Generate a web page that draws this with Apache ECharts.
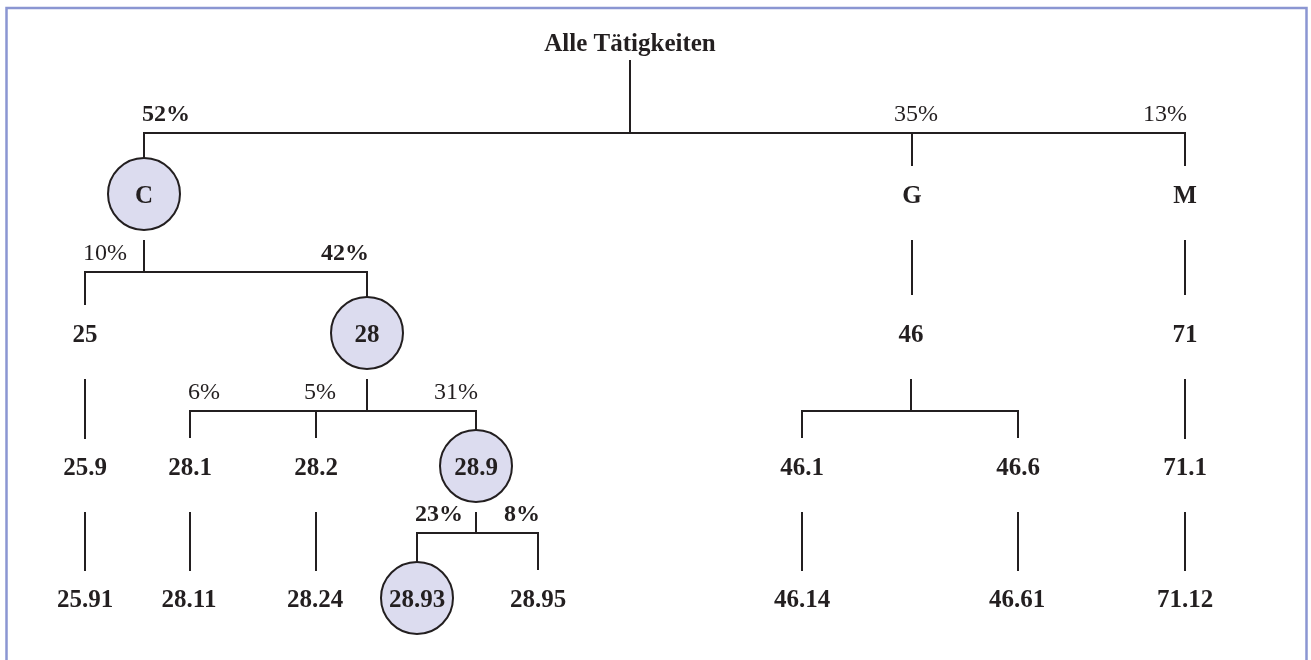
<!DOCTYPE html>
<html>
<head>
<meta charset="utf-8">
<script src="https://cdn.jsdelivr.net/npm/echarts@6/dist/echarts.min.js"></script>
<style>
html,body{margin:0;padding:0;background:#fff;}
#chart{width:1311px;height:660px;}
</style>
</head>
<body>
<div id="chart"></div>
<script>
// ---- data ----
const nodeNames  = ['Alle Tätigkeiten','C','G','M','25','28','46','71','25.9','28.1','28.2','28.9','46.1','46.6','71.1','25.91','28.11','28.24','28.93','28.95','46.14','46.61','71.12'];
const nodeParent = [-1,0,0,0,1,1,2,3,4,5,5,5,6,6,7,8,9,10,11,11,12,13,14];
const nodeLevel  = [0,1,1,1,2,2,2,2,3,3,3,3,3,3,3,4,4,4,4,4,4,4,4];
const nodeSlot   = [630,144,912,1185,85,367,911,1185,85,190,316,476,802,1018,1185,85,189,315,417,538,802,1017,1185];
const nodeCircled = [0,1,0,0,0,1,0,0,0,0,0,1,0,0,0,0,0,0,1,0,0,0,0];
const shareLabels = ['','52%','35%','13%','10%','42%','','','','6%','5%','31%','','','','','','','23%','8%','','',''];
const shareBold   = [0,1,0,0,0,1,0,0,0,0,0,0,0,0,0,0,0,0,1,1,0,0,0];

// ---- layout constants ----
const rowY = [42, 194, 333, 466, 598];
const barOffset = [61, 61, 55, 65];
const LINE = '#231f20';
const FILL = '#dcdcef';
const R = 36;

const children = nodeNames.map((_, i) => nodeParent.map((p, j) => p === i ? j : -1).filter(j => j >= 0));
const parentIdx = children.map((c, i) => c.length ? i : -1).filter(i => i >= 0);

function lineEl(a, b) {
  return {type:'line', shape:{x1:a[0], y1:a[1], x2:b[0], y2:b[1]}, style:{stroke:LINE, lineWidth:2}};
}

const connectorSeries = {
  type:'custom',
  silent:true,
  data: parentIdx.map(i => [i]),
  renderItem: function(params, api) {
    const p = api.value(0);
    const L = nodeLevel[p];
    const kids = children[p];
    const px = nodeSlot[p];
    const stemTop = rowY[L] + (L === 0 ? 18 : 46);
    const cy = rowY[L + 1];
    const els = [];
    if (kids.length === 1) {
      const end = cy - (L === 1 ? 38 : 27);
      els.push(lineEl(api.coord([px, stemTop]), api.coord([px, end])));
    } else {
      const barY = cy - barOffset[L];
      els.push(lineEl(api.coord([px, stemTop]), api.coord([px, barY])));
      const xs = kids.map(k => nodeSlot[k]);
      const a = api.coord([Math.min.apply(null, xs), barY]);
      const b = api.coord([Math.max.apply(null, xs), barY]);
      els.push({type:'line', shape:{x1:a[0]-1, y1:a[1], x2:b[0]+1, y2:b[1]}, style:{stroke:LINE, lineWidth:2}});
      kids.forEach(k => {
        const end = cy - (nodeCircled[k] ? R : 28);
        els.push(lineEl(api.coord([nodeSlot[k], barY]), api.coord([nodeSlot[k], end])));
      });
    }
    return {type:'group', children: els};
  }
};

const nodeSeries = {
  type:'scatter',
  silent:true,
  data: nodeNames.map((n, i) => ({
    name:n,
    value:[nodeSlot[i], rowY[nodeLevel[i]]],
    symbolSize: nodeCircled[i] ? R * 2 : 0,
    itemStyle:{color:FILL, borderColor:LINE, borderWidth:2, opacity:1}
  })),
  label:{
    show:true, position:'inside', formatter:'{b}', offset:[0, 3],
    fontFamily:'Liberation Serif', fontWeight:'bold', fontSize:25, color:LINE
  },
  z:3
};

// percentage labels above the bars
const shareData = [];
nodeNames.forEach((n, i) => {
  if (!shareLabels[i]) return;
  const p = nodeParent[i];
  const kids = children[p];
  const pos = kids.indexOf(i);
  const align = pos === 0 ? 'left' : (pos === kids.length - 1 ? 'right' : 'center');
  const barY = rowY[nodeLevel[i]] - barOffset[nodeLevel[p]];
  shareData.push({
    name: shareLabels[i],
    value:[nodeSlot[i] + (align === 'left' ? -2 : align === 'right' ? 2 : 4), barY - 20],
    label:{align:align, fontWeight: shareBold[i] ? 'bold' : 'normal', color:LINE}
  });
});

const shareSeries = {
  type:'scatter',
  silent:true,
  symbolSize:0,
  itemStyle:{opacity:1, color:LINE},
  data: shareData,
  label:{show:true, position:'inside', formatter:'{b}', offset:[0, 2], fontFamily:'Liberation Serif', fontSize:24, color:LINE, opacity:1},
  z:4
};

const chart = echarts.init(document.getElementById('chart'), null, {renderer:'canvas'});
chart.setOption({
  animation:false,
  backgroundColor:'#ffffff',
  grid:{left:0, right:0, top:0, bottom:0},
  xAxis:{type:'value', min:0, max:1311, show:false},
  yAxis:{type:'value', min:0, max:660, inverse:true, show:false},
  graphic:[{
    type:'rect', silent:true,
    shape:{x:6.5, y:8, width:1300, height:700},
    style:{fill:'none', stroke:'#8b96d2', lineWidth:2.5}
  }],
  series:[connectorSeries, nodeSeries, shareSeries]
});
</script>
</body>
</html>
